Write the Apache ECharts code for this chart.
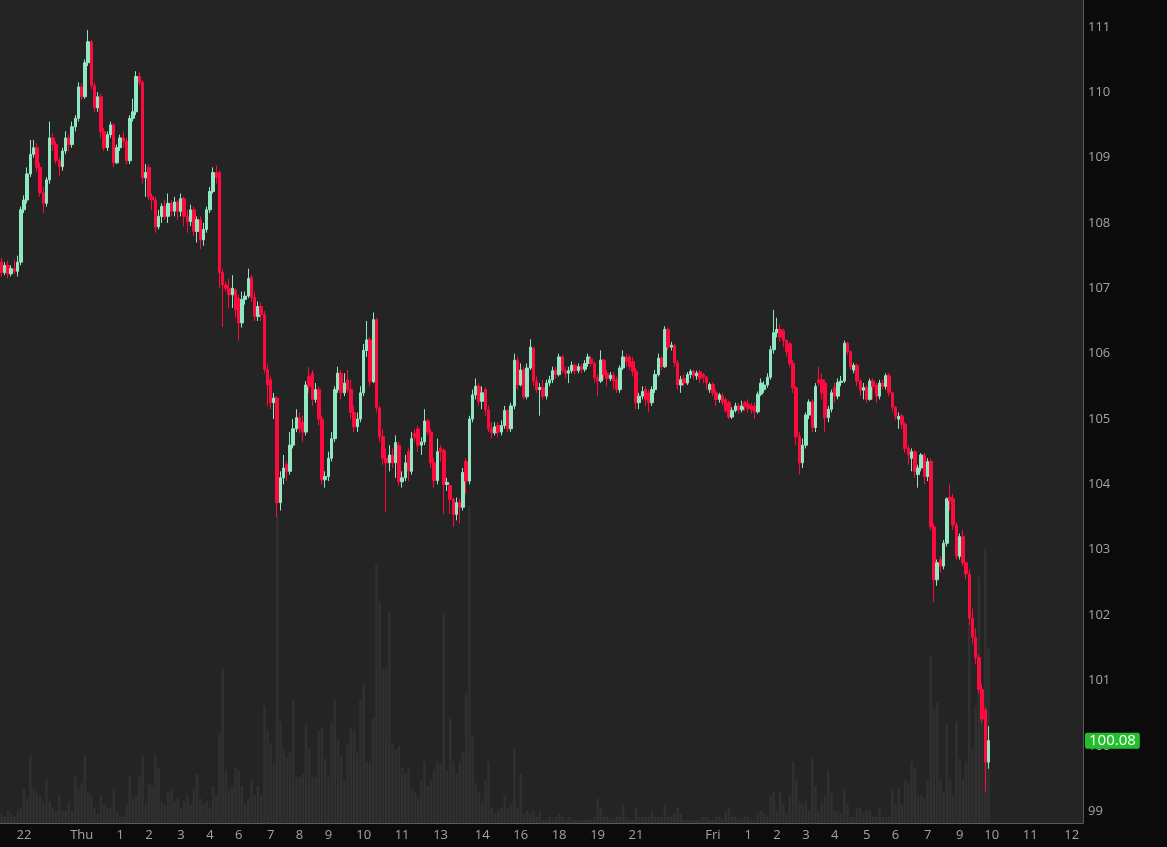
<!DOCTYPE html>
<html>
<head>
<meta charset="utf-8">
<script src="https://cdn.jsdelivr.net/npm/echarts@6/dist/echarts.min.js"></script>
<style>
html,body{margin:0;padding:0;background:#0b0b0b;}
#chart{width:1167px;height:847px;}
</style>
</head>
<body>
<div id="chart"></div>
<script>
// [open, close, low, high] per candle
const ohlc = [
[107.40,107.24,107.18,107.47],[107.24,107.35,107.20,107.40],[107.35,107.22,107.15,107.42],[107.22,107.30,107.18,107.35],[107.30,107.26,107.22,107.44],
[107.26,107.40,107.18,107.50],[107.40,108.20,107.35,108.25],[108.20,108.35,108.15,108.42],[108.35,108.75,108.30,108.85],[108.75,109.05,108.70,109.27],
[109.05,109.15,109.00,109.27],[109.15,108.85,108.78,109.22],[108.85,108.46,108.40,108.92],[108.46,108.30,108.15,108.55],[108.30,108.66,108.25,108.70],
[108.66,109.30,108.60,109.55],[109.30,109.20,109.10,109.37],[109.20,108.95,108.90,109.25],[108.95,108.86,108.72,109.00],[108.86,109.10,108.80,109.15],
[109.10,109.30,109.05,109.40],[109.30,109.20,109.10,109.35],[109.20,109.47,109.15,109.55],[109.47,109.60,109.40,109.65],[109.60,110.08,109.55,110.15],
[110.08,109.93,109.88,110.14],[109.93,110.45,109.90,110.50],[110.45,110.77,110.40,110.95],[110.77,110.10,110.05,110.80],[110.10,109.76,109.70,110.15],
[109.76,109.93,109.70,110.00],[109.93,109.40,109.30,109.98],[109.40,109.15,109.10,109.45],[109.15,109.35,109.10,109.40],[109.35,109.50,109.30,109.55],
[109.50,108.92,108.85,109.52],[108.92,109.15,108.90,109.20],[109.15,109.30,109.10,109.35],[109.30,109.25,109.15,109.40],[109.25,108.95,108.90,109.30],
[108.95,109.60,108.90,109.65],[109.60,109.70,109.55,109.90],[109.70,110.24,109.65,110.32],[110.24,110.15,110.10,110.30],[110.15,108.69,108.60,110.18],
[108.69,108.77,108.40,108.90],[108.85,108.40,108.35,108.90],[108.40,108.35,108.20,108.45],[108.35,107.94,107.85,108.40],[107.94,108.10,107.90,108.20],
[108.10,108.25,108.00,108.30],[108.25,108.10,108.05,108.35],[108.10,108.30,108.00,108.45],[108.30,108.18,108.10,108.35],[108.18,108.32,108.10,108.40],
[108.32,108.18,108.05,108.35],[108.18,108.37,108.10,108.45],[108.37,108.10,107.95,108.40],[108.10,108.02,107.85,108.20],[108.02,108.20,107.95,108.28],
[108.20,107.87,107.80,108.25],[107.87,108.05,107.70,108.10],[108.05,107.74,107.60,108.10],[107.74,107.90,107.65,108.00],[107.90,108.20,107.85,108.25],
[108.20,108.48,108.15,108.55],[108.48,108.77,108.45,108.85],[108.77,108.70,108.60,108.88],[108.77,107.24,107.00,108.80],[107.24,107.05,106.41,107.30],
[107.05,107.00,106.95,107.10],[107.00,106.90,106.70,107.15],[106.90,107.00,106.70,107.20],[106.97,106.67,106.55,107.00],[106.85,106.47,106.20,106.90],
[106.47,106.83,106.40,106.95],[106.83,106.88,106.75,106.95],[106.88,107.15,106.85,107.30],[107.17,106.86,106.80,107.20],[106.86,106.57,106.50,106.95],
[106.57,106.72,106.50,106.80],[106.72,106.60,106.50,106.78],[106.60,105.76,105.70,106.65],[105.76,105.52,105.20,105.85],[105.60,105.25,105.15,105.65],
[105.25,105.32,105.00,105.40],[105.32,103.72,103.50,105.35],[103.72,104.10,103.60,104.20],[104.10,104.25,104.00,104.45],[104.30,104.20,104.05,104.35],
[104.20,104.60,104.15,104.80],[104.60,104.85,104.55,105.00],[104.85,105.02,104.80,105.15],[105.02,104.85,104.78,105.10],[104.95,104.80,104.65,105.05],
[104.80,105.52,104.75,105.58],[105.65,105.50,105.40,105.80],[105.70,105.30,105.20,105.75],[105.30,105.45,105.25,105.55],[105.45,105.00,104.90,105.50],
[105.00,104.07,104.00,105.05],[104.07,104.12,103.95,104.20],[104.12,104.40,104.05,104.50],[104.40,104.70,104.35,104.80],[104.70,105.45,104.65,105.50],
[105.45,105.70,105.40,105.80],[105.70,105.40,105.30,105.75],[105.40,105.55,105.35,105.70],[105.60,105.45,105.40,105.75],[105.45,105.10,105.00,105.60],
[105.10,104.88,104.80,105.20],[104.88,105.00,104.80,105.10],[105.00,105.40,104.95,105.50],[105.40,106.05,105.35,106.15],[106.05,106.21,105.95,106.50],
[106.21,105.57,105.50,106.25],[105.57,106.52,105.55,106.63],[106.52,105.17,105.10,106.55],[105.17,104.73,104.65,105.20],[104.73,104.40,104.30,104.85],
[104.40,104.33,103.57,104.55],[104.33,104.45,104.20,104.60],[104.45,104.33,104.25,104.55],[104.33,104.64,104.10,104.75],[104.60,104.04,103.98,104.65],
[104.04,104.10,103.95,104.20],[104.10,104.33,104.05,104.45],[104.50,104.20,104.05,104.55],[104.20,104.70,104.15,104.80],[104.78,104.72,104.65,104.85],
[104.85,104.60,104.50,104.90],[104.60,104.65,104.45,104.72],[104.65,104.97,104.60,105.15],[104.97,104.80,104.75,105.00],[104.80,104.33,104.25,104.85],
[104.33,104.06,103.95,104.40],[104.06,104.50,104.00,104.70],[104.55,104.50,104.35,104.60],[104.52,104.00,103.55,104.55],[104.00,104.03,103.90,104.10],
[103.98,103.77,103.55,104.00],[103.77,103.54,103.35,103.80],[103.54,103.72,103.45,103.80],[103.72,103.65,103.40,103.78],[103.65,104.18,103.60,104.25],
[104.35,104.05,103.85,104.40],[104.05,105.00,104.00,105.05],[105.00,105.37,104.95,105.45],[105.37,105.50,105.30,105.62],[105.50,105.27,105.20,105.55],
[105.27,105.40,105.15,105.50],[105.45,105.14,105.05,105.48],[105.14,104.85,104.80,105.20],[104.85,104.79,104.70,104.95],[104.79,104.88,104.75,104.95],
[104.90,104.80,104.72,104.95],[104.80,104.90,104.75,104.98],[104.90,105.13,104.85,105.20],[105.13,104.85,104.80,105.15],[104.85,105.20,104.80,105.25],
[105.20,105.90,105.15,106.00],[105.90,105.52,105.45,105.95],[105.52,105.75,105.50,105.85],[105.75,105.34,105.30,105.80],[105.34,105.78,105.30,105.85],
[105.78,106.10,105.75,106.22],[106.08,105.58,105.50,106.10],[105.58,105.45,105.40,105.65],[105.45,105.48,105.05,105.55],[105.48,105.35,105.30,105.60],
[105.35,105.55,105.30,105.60],[105.55,105.60,105.50,105.66],[105.60,105.74,105.55,105.80],[105.74,105.68,105.62,105.80],[105.68,105.95,105.65,106.00],
[105.95,105.74,105.70,105.98],[105.74,105.70,105.62,105.80],[105.70,105.74,105.55,105.80],[105.74,105.82,105.70,105.88],[105.82,105.74,105.68,105.85],
[105.74,105.80,105.70,105.85],[105.80,105.76,105.70,105.84],[105.76,105.85,105.72,105.90],[105.85,105.95,105.80,106.00],[105.92,105.85,105.80,105.96],
[105.85,105.63,105.55,105.88],[105.63,105.58,105.35,105.68],[105.58,105.90,105.55,106.05],[105.90,105.68,105.60,105.92],[105.70,105.62,105.50,105.75],
[105.62,105.67,105.58,105.72],[105.67,105.58,105.45,105.72],[105.60,105.45,105.40,105.65],[105.45,105.78,105.40,105.82],[105.78,105.95,105.75,106.05],
[105.95,105.88,105.80,106.00],[105.95,105.80,105.75,105.98],[105.88,105.73,105.65,105.95],[105.73,105.25,105.15,105.78],[105.25,105.35,105.15,105.40],
[105.35,105.42,105.30,105.50],[105.45,105.30,105.20,105.50],[105.40,105.25,105.10,105.45],[105.25,105.45,105.20,105.50],[105.45,105.68,105.40,105.75],
[105.68,105.93,105.65,106.00],[105.93,105.80,105.75,105.96],[105.80,106.37,105.78,106.42],[106.37,106.10,106.05,106.40],[106.10,106.13,106.05,106.18],
[106.12,105.86,105.80,106.15],[105.86,105.52,105.45,105.90],[105.52,105.60,105.40,105.66],[105.62,105.55,105.50,105.68],[105.55,105.68,105.52,105.72],
[105.68,105.73,105.62,105.76],[105.73,105.66,105.60,105.76],[105.66,105.70,105.60,105.74],[105.72,105.62,105.55,105.75],[105.68,105.64,105.55,105.70],
[105.64,105.55,105.45,105.66],[105.45,105.53,105.40,105.56],[105.53,105.40,105.35,105.56],[105.40,105.30,105.20,105.45],[105.30,105.37,105.25,105.40],
[105.35,105.25,105.20,105.40],[105.30,105.13,105.10,105.32],[105.25,105.03,105.00,105.28],[105.03,105.13,105.00,105.18],[105.13,105.20,105.10,105.25],
[105.20,105.14,105.08,105.24],[105.14,105.20,105.10,105.28],[105.25,105.19,105.12,105.28],[105.23,105.16,105.10,105.30],[105.20,105.14,105.08,105.25],
[105.20,105.11,105.00,105.25],[105.11,105.38,105.08,105.42],[105.38,105.55,105.35,105.62],[105.45,105.52,105.40,105.58],[105.52,105.64,105.48,105.70],
[105.64,106.06,105.60,106.12],[106.06,106.32,106.00,106.67],[106.32,106.37,106.25,106.55],[106.37,106.25,106.18,106.45],[106.35,106.20,106.10,106.38],
[106.20,106.03,105.95,106.22],[106.15,105.85,105.80,106.18],[105.85,105.48,105.40,105.90],[105.48,104.73,104.60,105.50],[104.73,104.33,104.15,104.80],
[104.33,104.60,104.25,104.70],[104.60,105.06,104.55,105.10],[105.06,105.26,105.00,105.30],[105.26,104.87,104.80,105.30],[104.87,105.50,104.80,105.55],
[105.60,105.55,105.50,105.80],[105.60,105.40,105.30,105.70],[105.55,105.02,104.80,105.60],[105.02,105.15,104.95,105.20],[105.15,105.40,105.10,105.45],
[105.48,105.35,105.25,105.55],[105.35,105.56,105.30,105.62],[105.56,105.58,105.50,105.66],[105.58,106.16,105.55,106.20],[106.16,106.03,105.98,106.18],
[106.03,105.80,105.75,106.05],[105.75,105.82,105.70,105.86],[105.82,105.58,105.50,105.85],[105.58,105.44,105.35,105.62],[105.44,105.48,105.30,105.55],
[105.48,105.30,105.25,105.52],[105.30,105.58,105.28,105.62],[105.58,105.50,105.30,105.62],[105.52,105.35,105.25,105.55],[105.35,105.55,105.30,105.60],
[105.55,105.50,105.45,105.60],[105.50,105.66,105.45,105.70],[105.66,105.40,105.35,105.70],[105.40,105.18,105.10,105.42],[105.18,105.04,104.98,105.20],
[105.00,105.04,104.85,105.10],[105.05,104.92,104.85,105.08],[104.92,104.55,104.48,104.95],[104.55,104.45,104.30,104.60],[104.40,104.50,104.20,104.55],
[104.50,104.20,104.10,104.52],[104.15,104.25,103.95,104.30],[104.25,104.45,104.20,104.48],[104.45,104.12,104.00,104.48],[104.12,104.35,104.05,104.40],
[104.35,103.35,103.30,104.40],[103.35,102.54,102.20,103.40],[102.54,102.80,102.45,102.85],[102.85,102.75,102.65,102.90],[102.75,103.10,102.70,103.15],
[103.10,103.78,103.05,103.80],[103.80,103.75,103.60,104.00],[103.78,103.38,103.30,103.85],[103.38,102.90,102.85,103.42],[102.90,103.20,102.85,103.25],
[103.20,102.80,102.75,103.30],[102.80,102.63,102.55,102.82],[102.63,101.95,101.85,102.70],[101.95,101.66,101.55,102.10],[101.66,101.35,101.25,101.80],
[101.35,100.86,100.80,101.40],[100.86,100.41,100.35,100.95],[100.55,99.75,99.30,100.60],[99.75,100.08,99.65,100.30]
];

const volumes = [
3,2,4,3,2,4,5,11,8,22,
11,10,9,7,14,7,5,4,9,4,
4,7,4,15,11,13,22,10,9,5,
3,9,6,5,5,11,4,2,2,6,
15,8,9,15,22,6,13,12,22,18,
7,6,10,11,7,8,5,7,9,6,
11,16,8,6,7,5,12,9,29,50,
17,11,12,18,17,12,6,8,14,9,
12,9,38,30,26,19,100,33,24,21,
23,40,15,15,16,32,24,15,15,30,
31,21,15,33,40,27,22,14,26,31,
30,23,40,45,20,20,34,84,72,50,
50,68,26,24,25,18,16,18,11,10,
8,14,20,12,14,17,20,19,68,17,
34,20,16,20,23,42,103,28,13,10,
7,14,20,5,3,4,5,9,5,6,
24,5,16,3,4,3,4,2,4,1,
1,2,1,2,3,2,1,2,1,1,
1,1,1,1,1,2,8,5,2,2,
1,1,2,2,6,2,1,1,5,2,
2,2,2,4,2,2,2,6,2,2,
3,5,3,1,1,1,1,1,1,2,
2,1,1,2,2,1,4,5,2,2,
1,1,2,2,1,1,3,4,3,2,
9,10,4,10,6,3,9,20,14,7,
6,7,4,21,12,4,7,9,17,10,
4,4,3,11,6,2,2,5,5,3,
4,4,2,2,5,2,2,2,11,6,
11,6,14,13,20,18,9,9,8,14,
54,37,39,14,10,32,14,9,33,21,
14,20,65,24,38,80,44,89,57
];

// time-axis tick labels and the slot they sit on
const xLabelIndex = [7,25,37,46,56,65,74,84,93,102,113,125,137,150,162,174,186,198,222,233,242,251,260,270,279,289,299,309,321,334];
const xLabelText  = ['22','Thu','1','2','3','4','6','7','8','9','10','11','13','14','16','18','19','21','Fri','1','2','3','4','5','6','7','9','10','11','12'];
const yTicks = [99,100,101,102,103,104,105,106,107,108,109,110,111];
const lastPrice = 100.08;
const slotCount = 338;

const categories = Array.from({length: slotCount}, (_, i) => String(i));
const labelMap = {};
xLabelIndex.forEach((ix, k) => { labelMap[ix] = xLabelText[k]; });

const chart = echarts.init(document.getElementById('chart'), null, {renderer: 'canvas'});
const axisColor = '#5a5a5a';
const textColor = '#a3a3a3';
const font = 'Open Sans';

chart.setOption({
  backgroundColor: '#0b0b0b',
  animation: false,
  grid: {left: 0, right: 84, top: 0, bottom: 24, show: true, backgroundColor: '#242424', borderWidth: 0},
  xAxis: {
    type: 'category', data: categories, boundaryGap: true,
    axisLine: {show: true, lineStyle: {color: axisColor, width: 1}},
    axisTick: {show: false},
    splitLine: {show: false},
    axisLabel: {
      interval: (i) => labelMap[i] !== undefined,
      formatter: (v, i) => (labelMap[i] !== undefined ? labelMap[i] : ''),
      color: textColor, fontSize: 13, fontFamily: font, margin: 6, hideOverlap: false
    }
  },
  yAxis: [
    {
      type: 'value', position: 'right', min: 98.82, max: 111.41,
      axisLine: {show: true, lineStyle: {color: axisColor, width: 1}},
      axisTick: {show: false},
      splitLine: {show: false},
      axisLabel: {customValues: yTicks, color: textColor, fontSize: 13, fontFamily: font, margin: 5, formatter: (v) => String(Math.round(v))}
    },
    {type: 'value', min: 0, max: 267, show: false, splitLine: {show: false}}
  ],
  series: [
    {
      type: 'bar', yAxisIndex: 1, data: volumes, barWidth: 2.6, silent: true, z: 1,
      itemStyle: {color: '#303030'}
    },
    {
      type: 'candlestick', data: ohlc, barWidth: 3, z: 3,
      itemStyle: {color: '#8fe8c1', color0: '#ff0a3c', borderColor: '#8fe8c1', borderColor0: '#ff0a3c', borderWidth: 1}
    },
    {
      type: 'line', data: [], z: 10, silent: true,
      markLine: {
        silent: true, symbol: ['none', 'none'], animation: false,
        lineStyle: {color: 'rgba(0,0,0,0)', width: 1, type: 'solid'},
        label: {
          show: true, position: 'end', distance: 2, formatter: () => lastPrice.toFixed(2),
          color: '#ffffff', fontSize: 15, fontFamily: font, opacity: 1,
          backgroundColor: '#22c02d', padding: [1, 4, 0, 4], borderRadius: 2
        },
        data: [{yAxis: lastPrice}]
      }
    }
  ]
});
</script>
</body>
</html>
